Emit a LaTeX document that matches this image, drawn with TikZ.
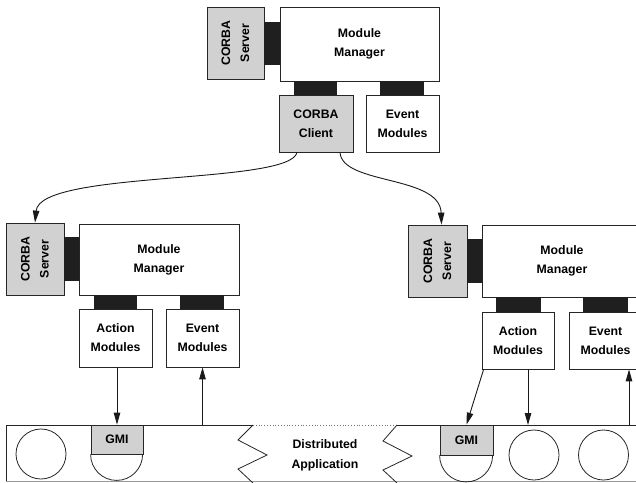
\documentclass[tikz,border=0pt]{standalone}
\usepackage{fontspec}
\setmainfont{Liberation Sans}
\usetikzlibrary{arrows.meta}

\begin{document}
\begin{tikzpicture}[x=1pt, y=-1pt,
  box/.style={draw=black!85, line width=0.8pt, fill=white, inner sep=0pt,
    align=center, font=\bfseries\fontsize{12.3}{19}\selectfont},
  orb/.style={box, fill=black!18},
  plug/.style={fill=black!88},
  link/.style={draw=black!90, line width=0.9pt, -{Triangle[length=12pt,width=6.5pt]}},
  band/.style={draw=black!85, line width=0.8pt}]
\useasboundingbox (0,0) rectangle (636,482);
\clip (0,0) rectangle (636,482);
% top manager
\node [orb, rotate=90, minimum width=72, minimum height=57] (srvA) at (235.5,43) {CORBA\\Server};
\node [box, minimum width=159, minimum height=74] (mgrA) at (359.5,44) {Module\\Manager};
\node [orb, minimum width=74, minimum height=57] (cliA) at (316,123.5) {CORBA\\Client};
\node [box, minimum width=73, minimum height=57] (evtA) at (402.5,123.5) {Event\\Modules};
\fill [plug] (264,22) rectangle (280,65);
\fill [plug] (294,81) rectangle (337,95);
\fill [plug] (380,81) rectangle (424,95);
% left manager
\node [orb, rotate=90, minimum width=72, minimum height=58] (srvB) at (35,259) {CORBA\\Server};
\node [box, minimum width=160, minimum height=71] (mgrB) at (159,259.5) {Module\\Manager};
\node [box, minimum width=73, minimum height=58] (actB) at (115.5,338) {Action\\Modules};
\node [box, minimum width=73, minimum height=58] (evtB) at (202.5,338) {Event\\Modules};
\fill [plug] (64,237) rectangle (79,281);
\fill [plug] (94,295) rectangle (137,309);
\fill [plug] (180,295) rectangle (224,309);
% right manager
\node [orb, rotate=90, minimum width=72, minimum height=59] (srvC) at (437.5,261) {CORBA\\Server};
\node [box, minimum width=160, minimum height=72] (mgrC) at (562,261) {Module\\Manager};
\node [box, minimum width=72, minimum height=57] (actC) at (518,340.5) {Action\\Modules};
\node [box, minimum width=73, minimum height=57] (evtC) at (605.5,340.5) {Event\\Modules};
\fill [plug] (467,239) rectangle (482,283);
\fill [plug] (496,297) rectangle (541,312);
\fill [plug] (583,297) rectangle (628,312);
% client to servers
\draw [link] ([xshift=-19]cliA.south) .. controls (290,185) and (40,170) .. (srvB.east);
\draw [link] ([xshift=24]cliA.south) .. controls (342,185) and (440,175) .. ([xshift=4]srvC.east);
% distributed application
\draw [band] (253,425) -- (6,425) -- (6,481);
\draw [band, black!40, line width=0.5pt] (6,481) -- (640,481);
\draw [band, black!55, dotted] (253,425) -- (397,425);
\draw [band] (397,425) -- (640,425);
\draw [band] (253,425) -- (238,440) -- (267,455) -- (238,469) -- (253,483);
\draw [band] (397,425) -- (383,441) -- (412,456) -- (383,470) -- (397,483);
\node [font=\bfseries\fontsize{12.3}{20}\selectfont, align=center] (app) at (325,455) {Distributed\\Application};
\draw [band] (41,454) circle (25);
\draw [band] (534,455) circle (25);
\draw [band] (603.5,455) circle (25);
\node [orb, minimum width=52, minimum height=29] (gmiB) at (117,439.5) {GMI};
\draw [band] (gmiB.south west) arc (180:0:26);
\node [orb, minimum width=53, minimum height=30] (gmiC) at (466.5,440) {GMI};
\draw [band] (gmiC.south west) arc (180:0:26.5);
\coordinate (tapB) at (202.5,425);
\coordinate (tapC) at (528,425);
\coordinate (upC) at (629,425);
% module links
\draw [link] (gmiB.north |- actB.south) -- (gmiB.north);
\draw [link] (tapB) -- (evtB.south);
\draw [link] ([xshift=2]actC.south west) -- (gmiC.north);
\draw [link] (tapC |- actC.south) -- (tapC);
\draw [link] (upC) -- (upC |- evtC.south);
\end{tikzpicture}
\end{document}
